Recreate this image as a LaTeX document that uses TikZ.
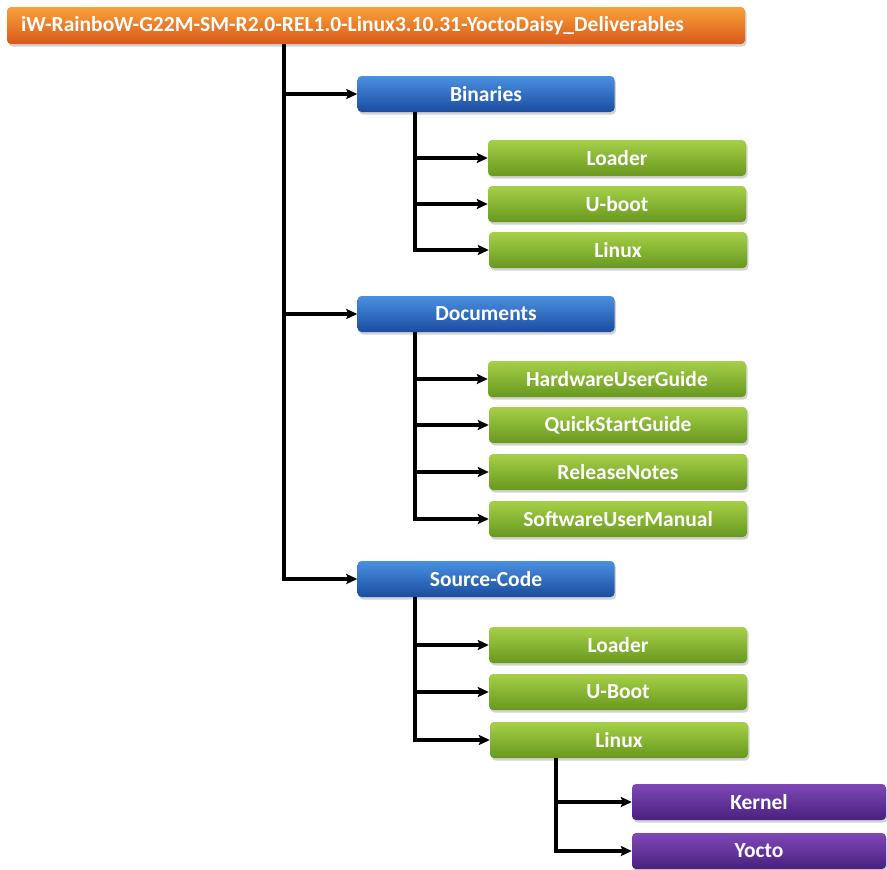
\documentclass[tikz,border=0pt]{standalone}
\usepackage{fontspec}
\setmainfont{Carlito}
\usetikzlibrary{arrows.meta,shadows}
\definecolor{orT}{HTML}{F8A23A}
\definecolor{orB}{HTML}{D9581A}
\definecolor{blT}{HTML}{4A90E2}
\definecolor{blB}{HTML}{1B4C9E}
\definecolor{grT}{HTML}{A6D048}
\definecolor{grB}{HTML}{67981E}
\definecolor{puT}{HTML}{8048B8}
\definecolor{puB}{HTML}{48207E}
\tikzset{
  box/.style={rounded corners=4pt, minimum height=36pt, text=white,
    font=\bfseries\fontsize{21.5}{21.5}\selectfont, inner sep=0pt,
    drop shadow={shadow xshift=1.5pt, shadow yshift=-2.5pt, opacity=0.35}},
  orbox/.style={box, top color=orT, bottom color=orB, minimum width=738pt, minimum height=37pt,
    text width=738pt, align=left},
  blbox/.style={box, top color=blT, bottom color=blB, minimum width=257pt},
  grbox/.style={box, top color=grT, bottom color=grB, minimum width=258pt},
  pubox/.style={box, top color=puT, bottom color=puB, minimum width=254pt},
  arr/.style={line width=3.2pt, -{Stealth[length=11pt,width=10pt,inset=2pt]}},
}
\begin{document}
\begin{tikzpicture}[x=1pt,y=-1pt]
\useasboundingbox (0,0) rectangle (887,870);
% nodes
\node[orbox] (top) at (376,25.5) {\hspace*{14pt}iW-RainboW-G22M-SM-R2.0-REL1.0-Linux3.10.31-YoctoDaisy\_Deliverables};
\node[blbox] (bin) at (486,94) {Binaries};
\node[blbox] (doc) at (486,314) {Documents};
\node[blbox] (src) at (486,579) {Source-Code};
\node[grbox] (b1) at (617,158) {Loader};
\node[grbox] (b2) at (617,204) {U-boot};
\node[grbox] (b3) at (618,250) {Linux};
\node[grbox] (d1) at (617,379) {HardwareUserGuide};
\node[grbox] (d2) at (618,425) {QuickStartGuide};
\node[grbox] (d3) at (618,472) {ReleaseNotes};
\node[grbox] (d4) at (618,519) {SoftwareUserManual};
\node[grbox] (s1) at (618,645) {Loader};
\node[grbox] (s2) at (618,692) {U-Boot};
\node[grbox] (s3) at (619,740) {Linux};
\node[pubox] (k) at (759,802) {Kernel};
\node[pubox] (y) at (759,851) {Yocto};
% trunk coordinates
\coordinate (t0) at (284,0);
\coordinate (t1) at (415,0);
\coordinate (t2) at (556,0);
% connectors
\foreach \c in {bin,doc,src}
  \draw[arr] (top.south -| t0) |- (\c.west);
\foreach \c in {b1,b2,b3}
  \draw[arr] (bin.south -| t1) |- (\c.west);
\foreach \c in {d1,d2,d3,d4}
  \draw[arr] (doc.south -| t1) |- (\c.west);
\foreach \c in {s1,s2,s3}
  \draw[arr] (src.south -| t1) |- (\c.west);
\foreach \c in {k,y}
  \draw[arr] (s3.south -| t2) |- (\c.west);
\end{tikzpicture}
\end{document}
